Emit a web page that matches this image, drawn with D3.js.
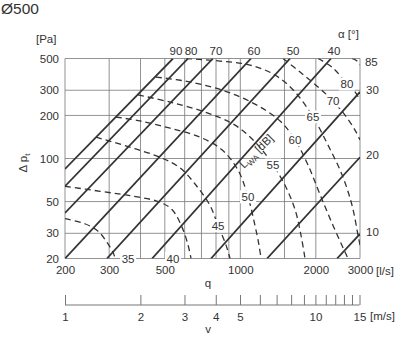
<!DOCTYPE html>
<html><head><meta charset="utf-8">
<script src="https://cdn.jsdelivr.net/npm/d3@7"></script>
<style>body{margin:0;background:#fff}svg{display:block}text{font-family:"Liberation Sans",Arial,sans-serif;fill:#333}</style>
</head><body><div id="c"></div>
<script>
// ---- data ----
const qTicks = [200, 300, 500, 1000, 2000, 3000];
const qGrid = [200, 300, 400, 500, 600, 700, 800, 900, 1000, 1500, 2000, 3000];
const pTicks = [20, 30, 50, 100, 200, 300, 500];
const vTicks = [1,2,3,4,5,6,7,8,9,10,11,12,13,14,15];
const vLabels = [1,2,3,4,5,10,15];
// damper angle lines: alpha and two end points [q, p]
const alphaValues = [90, 80, 70, 60, 50, 40, 30, 20, 10];
const alphaStart = [[200,84.5],[200,64],[200,41.6],[200,20],[294,20],[445,20],[764,20],[1278,20],[2430,20]];
const alphaEnd   = [[539,500],[619,500],[778,500],[1103,500],[1579,500],[2299,500],[3000,292],[3000,102],[3000,29.7]];
// sound power level curves L_WA [dB]
const dbValues = [35, 40, 45, 50, 55, 60, 65, 70, 80, 85];
const dbCurves = [
  [[200,38],[240,35],[271,31],[294,26],[311,22],[317,20]],
  [[200,64],[276,59],[363,55],[470,50],[534,44],[586,33],[619,24.8],[636,20]],
  [[266,141],[363,120],[478,102],[575,86],[666,65],[757,47],[815,34],[877,24.8],[910,20]],
  [[319,195],[398,183],[525,163],[691,141],[845,115],[979,83],[1073,54],[1144,34],[1187,24.8],[1209,20]],
  [[391,278],[525,248],[723,211],[953,171],[1176,124],[1350,90],[1507,65],[1652,44],[1746,29],[1811,20]],
  [[461,371],[630,343],[869,296],[1144,240],[1440,183],[1652,135],[1862,90],[2078,56],[2342,34],[2687,20]],
  [[608,500],[830,480],[1093,450],[1375,383],[1652,292],[1949,195],[2237,124],[2544,77],[2789,47],[2947,29],[3000,24.8]],
  [[1480,500],[1730,402],[2041,316],[2342,252],[2614,201],[2866,158],[3000,135]],
  [[2041,500],[2342,429],[2663,332],[2866,292],[3000,256]],
  [[2789,500],[2920,480],[3000,450]]
];
const dbLabelPos = [[357,20],[539,20],[815,34],[1073,54],[1350,90],[1652,135],[1949,195],[2342,252],[2663,332],[3330,472]];

// ---- drawing ----
const W = 400, H = 360;
const svg = d3.select("#c").append("svg").attr("width", W).attr("height", H);
svg.append("rect").attr("width", W).attr("height", H).attr("fill", "#fff");
const x = d3.scaleLog().domain([200, 3000]).range([65, 360]);
const y = d3.scaleLog().domain([20, 500]).range([258.5, 58.5]);
const v = d3.scaleLog().domain([1, 15]).range([65, 359.5]);

svg.append("defs").append("clipPath").attr("id", "plot")
  .append("rect").attr("x", 65).attr("y", 58.5).attr("width", 295).attr("height", 200);

// grid
const g = svg.append("g").attr("stroke", "#777").attr("stroke-width", 0.8);
qGrid.forEach(q => g.append("line").attr("x1", x(q)).attr("x2", x(q)).attr("y1", y(20)).attr("y2", y(500)));
pTicks.forEach(p => g.append("line").attr("x1", x(200)).attr("x2", x(3000)).attr("y1", y(p)).attr("y2", y(p)));

const plot = svg.append("g").attr("clip-path", "url(#plot)");
const line = d3.line().x(d => x(d[0])).y(d => y(d[1]));
const curve = d3.line().x(d => x(d[0])).y(d => y(d[1])).curve(d3.curveCatmullRom.alpha(0.5));

dbCurves.forEach(c => plot.append("path").attr("d", curve(c)).attr("fill", "none")
  .attr("stroke", "#333").attr("stroke-width", 1.3).attr("stroke-dasharray", "6,4"));
alphaValues.forEach((a, i) => plot.append("path").attr("d", line([alphaStart[i], alphaEnd[i]]))
  .attr("fill", "none").attr("stroke", "#333").attr("stroke-width", 1.8));

// dB labels with white background
dbValues.forEach((d, i) => {
  const [q, p] = dbLabelPos[i];
  const tx = x(q), ty = y(p);
  if (i < 9) svg.append("rect").attr("x", tx - 8).attr("y", ty - 6.5).attr("width", 16).attr("height", 13).attr("fill", "#fff");
  svg.append("text").attr("x", tx).attr("y", ty + 4).attr("text-anchor", "middle").attr("font-size", 11.5).text(d);
});

// alpha labels
alphaValues.forEach((a, i) => {
  const e = alphaEnd[i];
  if (e[1] >= 500) svg.append("text").attr("x", x(e[0]) + 3).attr("y", 54.5).attr("text-anchor", "middle").attr("font-size", 11.5).text(a);
  else svg.append("text").attr("x", 366).attr("y", y(e[1]) + 2).attr("font-size", 11.5).text(a);
});
svg.append("text").attr("x", 338).attr("y", 37.5).attr("font-size", 11.5).text("α [°]");

// y axis labels
const ya = svg.append("g").attr("transform", "translate(59,0)")
  .call(d3.axisLeft(y).tickValues(pTicks).tickFormat(d3.format("d")).tickSize(0).tickPadding(0));
ya.select(".domain").remove();
ya.selectAll("text").attr("font-size", 11.5).attr("fill", "#333").attr("font-family", "Liberation Sans, Arial, sans-serif");
svg.append("text").attr("x", 36).attr("y", 43).attr("font-size", 11.5).text("[Pa]");
svg.append("text").attr("transform", "translate(27,163) rotate(-90)").attr("text-anchor", "middle").attr("font-size", 11.5)
  .html('Δ p<tspan font-size="8" dy="3">t</tspan>');

// x axis labels
const xa = svg.append("g").attr("transform", "translate(0,266)")
  .call(d3.axisBottom(x).tickValues(qTicks).tickFormat(d3.format("d")).tickSize(0).tickPadding(0));
xa.select(".domain").remove();
xa.selectAll("text").attr("font-size", 11.5).attr("fill", "#333").attr("font-family", "Liberation Sans, Arial, sans-serif");
svg.append("text").attr("x", 376).attr("y", 275).attr("font-size", 11.5).text("[l/s]");
svg.append("text").attr("x", 208).attr("y", 287).attr("text-anchor", "middle").attr("font-size", 11.5).text("q");

// velocity axis
const va = svg.append("g").attr("transform", "translate(0,305)")
  .call(d3.axisBottom(v).tickValues(vTicks).tickSize(-10).tickPadding(8)
    .tickFormat(d => vLabels.includes(d) ? d : ""));
va.select(".domain").attr("stroke", "#777").attr("d", `M${v(1)},0H${v(15)}`);
va.selectAll(".tick line").attr("stroke", "#777");
va.selectAll("text").attr("font-size", 11.5).attr("fill", "#333").attr("font-family", "Liberation Sans, Arial, sans-serif");
svg.append("text").attr("x", 370).attr("y", 320).attr("font-size", 11.5).text("[m/s]");
svg.append("text").attr("x", 208).attr("y", 333).attr("text-anchor", "middle").attr("font-size", 11.5).text("v");

// L_WA label
svg.append("text").attr("transform", "translate(259,154) rotate(-45)").attr("text-anchor", "middle").attr("font-size", 11.5)
  .html('L<tspan font-size="8" dy="3">WA</tspan><tspan dy="-3"> [dB]</tspan>');

// title
svg.append("text").attr("x", 1).attr("y", 14).attr("font-size", 15.5).text("Ø500");
</script></body></html>
